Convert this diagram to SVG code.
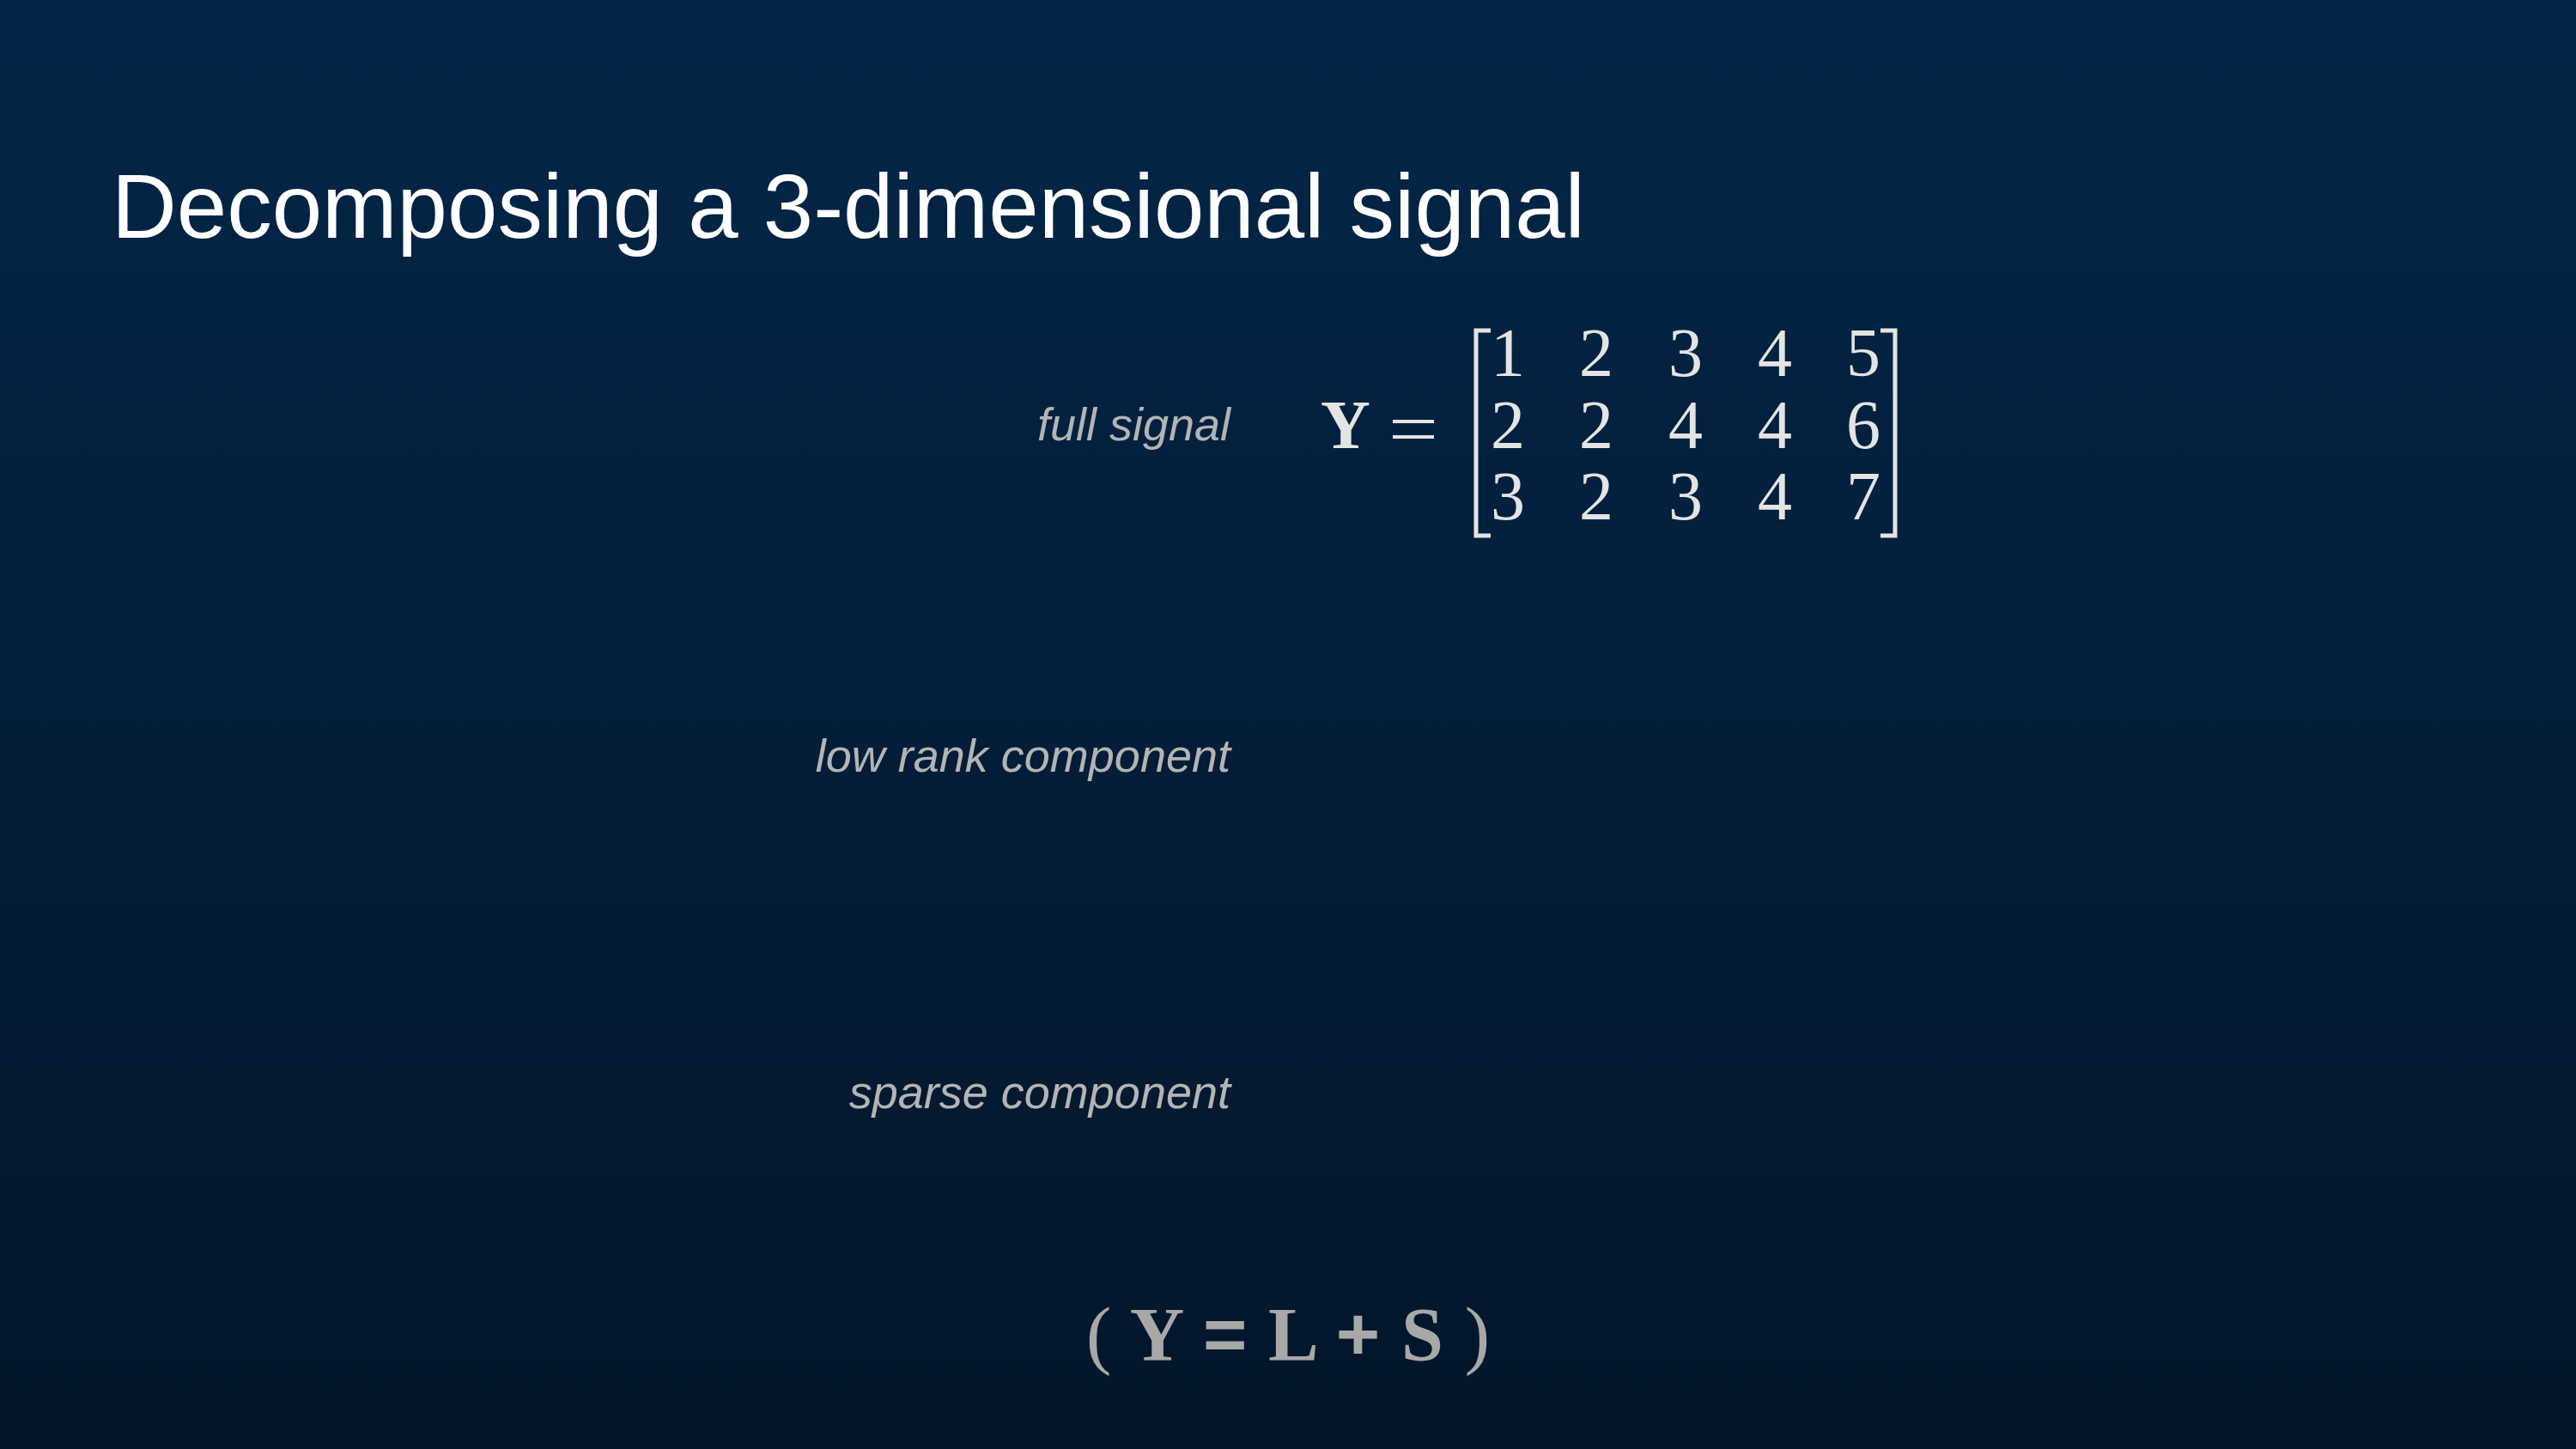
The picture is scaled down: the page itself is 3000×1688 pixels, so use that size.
<svg xmlns="http://www.w3.org/2000/svg" width="3000" height="1688" viewBox="0 0 3000 1688">
<defs>
<linearGradient id="bg" x1="0" y1="0" x2="0" y2="1">
<stop offset="0" stop-color="#032648"/>
<stop offset="1" stop-color="#03162a"/>
</linearGradient>
<style>
.lbl{font-family:"Liberation Sans",Arial,sans-serif;font-style:italic;font-size:54px;fill:#b4b4b4;text-anchor:end}
.m{font-family:"Liberation Serif","DejaVu Serif",serif;font-size:80px;fill:#e4e4e4;text-anchor:middle}
.br{fill:none;stroke:#e4e4e4;stroke-width:5}
</style>
</defs>
<rect width="3000" height="1688" fill="url(#bg)"/>
<text x="130" y="277" font-family="Liberation Sans,Arial,sans-serif" font-size="105" fill="#ffffff">Decomposing a 3-dimensional signal</text>
<g id="labels">
<text class="lbl" x="1433" y="513">full signal</text>
<text class="lbl" x="1433" y="899">low rank component</text>
<text class="lbl" x="1433" y="1291">sparse component</text>
</g>
<g id="matrix">
<text x="1567" y="522" class="m" font-weight="bold" font-size="74">Y</text>
<rect x="1622" y="489" width="48" height="4" fill="#e4e4e4"/>
<rect x="1622" y="507" width="48" height="4" fill="#e4e4e4"/>
<path class="br" d="M1736 385 H1719 V624 H1736"/>
<path class="br" d="M2190 385 H2207 V624 H2190"/>
<text class="m" y="438"><tspan x="1756">1</tspan><tspan x="1859">2</tspan><tspan x="1963">3</tspan><tspan x="2067">4</tspan><tspan x="2170">5</tspan></text>
<text class="m" y="522"><tspan x="1756">2</tspan><tspan x="1859">2</tspan><tspan x="1963">4</tspan><tspan x="2067">4</tspan><tspan x="2170">6</tspan></text>
<text class="m" y="605"><tspan x="1756">3</tspan><tspan x="1859">2</tspan><tspan x="1963">3</tspan><tspan x="2067">4</tspan><tspan x="2170">7</tspan></text>
</g>
<g id="formula">
<text x="1500" y="1584" text-anchor="middle" font-family="Liberation Serif,serif" font-size="88" font-weight="bold" fill="#a8a8a8" textLength="470"><tspan font-weight="normal">(</tspan> Y <tspan font-family="Liberation Sans,sans-serif">=</tspan> L <tspan font-family="Liberation Sans,sans-serif">+</tspan> S <tspan font-weight="normal">)</tspan></text>
</g>
</svg>
